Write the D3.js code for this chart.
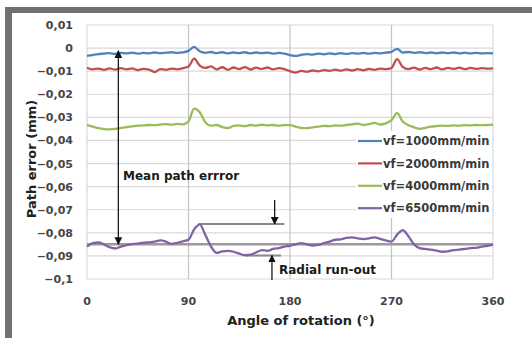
<!DOCTYPE html>
<html><head><meta charset="utf-8">
<script src="https://cdn.jsdelivr.net/npm/d3@7"></script>
<style>
html,body{margin:0;padding:0;background:#fff;}
svg{display:block;}
text{font-family:"DejaVu Sans",Verdana,sans-serif;}
</style></head>
<body>
<script>
// ---- data ----
const angles = d3.range(0, 361, 5);
const yTicks = [0.01,0,-0.01,-0.02,-0.03,-0.04,-0.05,-0.06,-0.07,-0.08,-0.09,-0.1];
const xTicks = [0,90,180,270,360];
const seriesNames = ["vf=1000mm/min","vf=2000mm/min","vf=4000mm/min","vf=6500mm/min"];
const seriesColors = ["#4f81bd","#c0504d","#9bbb59","#8064a2"];

const vf1000 = [
 -0.0034,-0.0030,-0.0026,-0.0024,-0.0022,-0.0025,-0.0021,-0.0023,-0.0020,-0.0024,-0.0021,-0.0023,-0.0019,-0.0022,-0.0020,-0.0018,-0.0021,-0.0019,
 -0.0012,0.0005,-0.0014,-0.0021,-0.0017,-0.0022,-0.0018,-0.0023,-0.0019,-0.0022,-0.0018,-0.0023,-0.0019,-0.0022,-0.0020,-0.0024,-0.0021,-0.0024,
 -0.0030,-0.0034,-0.0029,-0.0026,-0.0028,-0.0024,-0.0027,-0.0023,-0.0026,-0.0022,-0.0025,-0.0022,-0.0024,-0.0021,-0.0024,-0.0021,-0.0023,-0.0020,
 -0.0016,-0.0003,-0.0019,-0.0017,-0.0021,-0.0018,-0.0022,-0.0019,-0.0023,-0.0019,-0.0022,-0.0019,-0.0023,-0.0020,-0.0023,-0.0021,-0.0023,-0.0022,
 -0.0023];
const vf2000 = [
 -0.0085,-0.0092,-0.0089,-0.0094,-0.0088,-0.0093,-0.0087,-0.0092,-0.0088,-0.0095,-0.0090,-0.0093,-0.0104,-0.0091,-0.0094,-0.0089,-0.0092,-0.0087,
 -0.0080,-0.0046,-0.0076,-0.0086,-0.0079,-0.0092,-0.0083,-0.0094,-0.0084,-0.0091,-0.0082,-0.0093,-0.0085,-0.0090,-0.0084,-0.0092,-0.0087,-0.0091,
 -0.0100,-0.0106,-0.0099,-0.0103,-0.0097,-0.0101,-0.0095,-0.0099,-0.0093,-0.0098,-0.0092,-0.0097,-0.0091,-0.0096,-0.0090,-0.0094,-0.0089,-0.0091,
 -0.0086,-0.0048,-0.0082,-0.0091,-0.0085,-0.0093,-0.0086,-0.0091,-0.0084,-0.0092,-0.0086,-0.0090,-0.0085,-0.0091,-0.0086,-0.0090,-0.0087,-0.0089,
 -0.0088];
const vf4000 = [
 -0.0333,-0.0340,-0.0347,-0.0351,-0.0352,-0.0350,-0.0346,-0.0342,-0.0339,-0.0336,-0.0335,-0.0333,-0.0334,-0.0331,-0.0329,-0.0332,-0.0328,-0.0330,
 -0.0318,-0.0262,-0.0278,-0.0322,-0.0336,-0.0333,-0.0342,-0.0346,-0.0337,-0.0335,-0.0338,-0.0333,-0.0336,-0.0332,-0.0335,-0.0333,-0.0336,-0.0334,
 -0.0334,-0.0340,-0.0346,-0.0347,-0.0343,-0.0340,-0.0337,-0.0338,-0.0335,-0.0336,-0.0333,-0.0330,-0.0327,-0.0333,-0.0329,-0.0324,-0.0331,-0.0326,
 -0.0312,-0.0282,-0.0318,-0.0334,-0.0343,-0.0350,-0.0345,-0.0340,-0.0338,-0.0336,-0.0337,-0.0335,-0.0336,-0.0334,-0.0335,-0.0333,-0.0334,-0.0333,
 -0.0332];
const vf6500 = [
 -0.0860,-0.0845,-0.0842,-0.0850,-0.0862,-0.0868,-0.0860,-0.0853,-0.0849,-0.0847,-0.0843,-0.0841,-0.0838,-0.0833,-0.0838,-0.0848,-0.0843,-0.0837,
 -0.0830,-0.0785,-0.0763,-0.0810,-0.0860,-0.0887,-0.0880,-0.0878,-0.0882,-0.0890,-0.0897,-0.0895,-0.0885,-0.0875,-0.0878,-0.0870,-0.0866,-0.0860,
 -0.0856,-0.0850,-0.0845,-0.0850,-0.0855,-0.0852,-0.0845,-0.0838,-0.0830,-0.0828,-0.0822,-0.0820,-0.0824,-0.0827,-0.0824,-0.0820,-0.0826,-0.0833,
 -0.0838,-0.0808,-0.0788,-0.0815,-0.0850,-0.0866,-0.0870,-0.0873,-0.0877,-0.0882,-0.0880,-0.0875,-0.0873,-0.0870,-0.0866,-0.0865,-0.0860,-0.0856,
 -0.0852];
const seriesValues = [vf1000, vf2000, vf4000, vf6500];

// annotation reference values (data units)
const meanPathError = -0.085;
const runOutTop = -0.0762;
const runOutBottom = -0.0898;

// ---- layout ----
const W = 532, H = 338;
const svg = d3.select("body").append("svg").attr("width", W).attr("height", H);

const x = d3.scaleLinear().domain([0, 360]).range([87, 493]);
const y = d3.scaleLinear().domain([-0.1, 0.01]).range([279, 25]);

// frame bars
svg.append("rect").attr("x", 5).attr("y", 7).attr("width", W - 5).attr("height", 6).attr("fill", "#707070");
svg.append("rect").attr("x", 5).attr("y", 7).attr("width", 7).attr("height", H - 7).attr("fill", "#707070");

// gridlines
const g = svg.append("g");
g.selectAll(".hg").data(yTicks).join("line")
  .attr("x1", x(0)).attr("x2", x(360))
  .attr("y1", d => y(d)).attr("y2", d => y(d))
  .attr("stroke", "#d9d9d9").attr("stroke-width", 1.2);
g.selectAll(".vg").data(xTicks).join("line")
  .attr("x1", d => x(d)).attr("x2", d => x(d))
  .attr("y1", y(0.01)).attr("y2", y(-0.1))
  .attr("stroke", d => (d === 0 || d === 360) ? "#d9d9d9" : "#c4c4c4").attr("stroke-width", 1.2);

// y tick labels
const fmt = d => d3.format(".2~f")(d).replace(".", ",");
svg.append("g").selectAll("text").data(yTicks).join("text")
  .attr("x", 73).attr("y", d => y(d)).attr("dy", "0.36em")
  .attr("text-anchor", "end").attr("font-size", 11).attr("font-weight", "bold")
  .attr("fill", "#454545")
  .text(d => d === 0 ? "0" : fmt(d));

// x tick labels
svg.append("g").selectAll("text").data(xTicks).join("text")
  .attr("x", d => x(d)).attr("y", 305)
  .attr("text-anchor", "middle").attr("font-size", 11).attr("font-weight", "bold")
  .attr("fill", "#454545").text(d => d);

// axis titles
svg.append("text").attr("x", 301).attr("y", 325).attr("text-anchor", "middle")
  .attr("font-size", 13).attr("font-weight", "bold").attr("fill", "#222")
  .text("Angle of rotation (°)");
svg.append("text").attr("transform", "translate(36,159) rotate(-90)")
  .attr("text-anchor", "middle").attr("font-size", 13).attr("font-weight", "bold").attr("fill", "#222")
  .text("Path error (mm)");

// legend background
svg.append("rect").attr("x", 356).attr("y", 131).attr("width", 136).attr("height", 87).attr("fill", "#fff");

// annotation lines (behind series)
const ann = svg.append("g");
ann.append("line").attr("x1", x(0)).attr("x2", x(360))
  .attr("y1", y(meanPathError)).attr("y2", y(meanPathError))
  .attr("stroke", "#9a9a9a").attr("stroke-width", 2.5);
ann.append("line").attr("x1", x(99)).attr("x2", x(175))
  .attr("y1", y(runOutTop)).attr("y2", y(runOutTop))
  .attr("stroke", "#8a8a8a").attr("stroke-width", 2);
ann.append("line").attr("x1", x(140)).attr("x2", x(172))
  .attr("y1", y(runOutBottom)).attr("y2", y(runOutBottom))
  .attr("stroke", "#8a8a8a").attr("stroke-width", 2);

// series
const line = d3.line().x((d, i) => x(angles[i])).y(d => y(d)).curve(d3.curveMonotoneX);
svg.append("g").selectAll("path").data(seriesValues).join("path")
  .attr("d", line).attr("fill", "none")
  .attr("stroke", (d, i) => seriesColors[i]).attr("stroke-width", 2.3)
  .attr("stroke-linejoin", "round");

// arrows
const defs = svg.append("defs");
defs.append("marker").attr("id", "ah").attr("viewBox", "0 0 10 10")
  .attr("refX", 9).attr("refY", 5).attr("markerWidth", 6).attr("markerHeight", 6)
  .attr("orient", "auto-start-reverse")
  .append("path").attr("d", "M0,0L10,5L0,10z").attr("fill", "#111");

function arrow(a, v1, v2, both) {
  const l = svg.append("line").attr("x1", x(a)).attr("x2", x(a))
    .attr("y1", y(v1)).attr("y2", y(v2))
    .attr("stroke", "#1a1a1a").attr("stroke-width", 1.3)
    .attr("marker-end", "url(#ah)");
  if (both) l.attr("marker-start", "url(#ah)");
}
arrow(27.8, -0.0012, meanPathError, true);
arrow(166.4, -0.0658, runOutTop, false);
arrow(164, -0.1004, runOutBottom, false);

svg.append("text").attr("x", 123).attr("y", 180).attr("font-size", 12).attr("font-weight", "bold")
  .attr("fill", "#1a1a1a").text("Mean path errror");
svg.append("text").attr("x", 279).attr("y", 274).attr("font-size", 12).attr("font-weight", "bold")
  .attr("fill", "#1a1a1a").text("Radial run-out");

// legend
const lg = svg.append("g").selectAll("g").data(seriesNames).join("g")
  .attr("transform", (d, i) => `translate(358,${141 + i * 22.4})`);
lg.append("line").attr("x1", 0).attr("x2", 24).attr("stroke", (d, i) => seriesColors[i]).attr("stroke-width", 2.2);
lg.append("text").attr("x", 25).attr("dy", "0.36em").attr("font-size", 11.5).attr("font-weight", "bold")
  .attr("fill", "#3a3a3a").text(d => d);
</script>
</body></html>
